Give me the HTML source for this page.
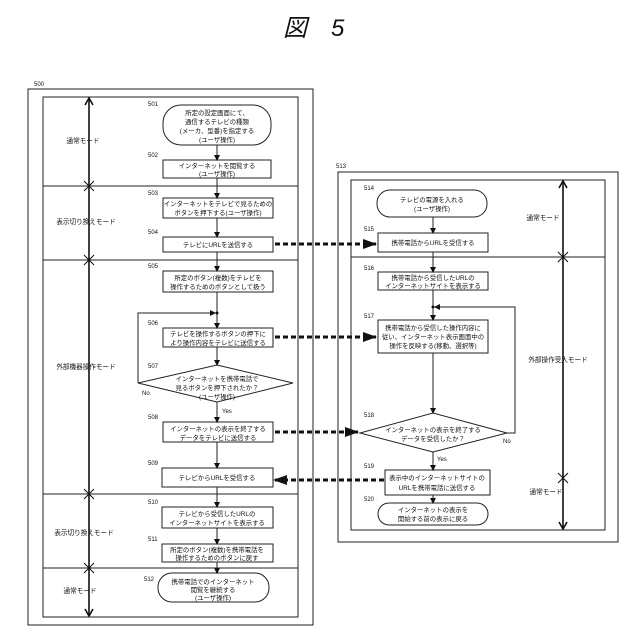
<!DOCTYPE html>
<html><head><meta charset="utf-8"><style>
html,body{margin:0;padding:0;background:#fff;}
svg{display:block;}
text{font-family:"Liberation Sans","Noto Sans CJK JP",sans-serif;fill:#111;}
.t{font-size:6.4px;text-anchor:middle;}
.n{font-size:6px;}
.m{font-size:6.6px;text-anchor:middle;}
</style></head><body>
<svg width="640" height="640" viewBox="0 0 640 640" xmlns="http://www.w3.org/2000/svg">
<defs>
<marker id="a" markerWidth="6" markerHeight="6" refX="5" refY="3" orient="auto" markerUnits="userSpaceOnUse"><path d="M0,0 L6,3 L0,6 z" fill="#111"/></marker>
<marker id="big" markerWidth="14" markerHeight="10" refX="13" refY="5" orient="auto" markerUnits="userSpaceOnUse"><path d="M0,0 L14,5 L0,10 z" fill="#111"/></marker>
</defs>
<text x="283" y="36" style="font-size:24px;font-style:italic;">図　5</text>

<g fill="none" stroke="#222" stroke-width="1">
<rect x="28" y="89" width="285" height="536"/>
<rect x="43" y="97" width="255" height="520"/>
<line x1="43" y1="186" x2="298" y2="186"/>
<line x1="43" y1="260" x2="298" y2="260"/>
<line x1="43" y1="494" x2="298" y2="494"/>
<line x1="43" y1="568" x2="298" y2="568"/>
<rect x="338" y="172" width="280" height="370"/>
<rect x="351" y="180" width="254" height="350"/>
<line x1="351" y1="257" x2="605" y2="257"/>
</g>
<!-- mode arrows -->
<g stroke="#111" stroke-width="1.6" fill="none">
<line x1="89" y1="99" x2="89" y2="615"/>
<line x1="563" y1="182" x2="563" y2="528"/>
<path d="M85,105 L89,98 L93,105 M85,609 L89,616 L93,609 M559,188 L563,181 L567,188 M559,522 L563,529 L567,522"/>
<path d="M84,181 l10,10 M94,181 l-10,10 M84,255 l10,10 M94,255 l-10,10 M84,489 l10,10 M94,489 l-10,10 M84,563 l10,10 M94,563 l-10,10 M558,252 l10,10 M568,252 l-10,10 M558,473 l10,10 M568,473 l-10,10" stroke-width="1"/>
</g>
<text class="m" x="83" y="143">通常モード</text>
<text class="m" x="86" y="224">表示切り換えモード</text>
<text class="m" x="86" y="369">外部機器操作モード</text>
<text class="m" x="84" y="535">表示切り換えモード</text>
<text class="m" x="80" y="593">通常モード</text>
<text class="m" x="543" y="220">通常モード</text>
<text class="m" x="558" y="362">外部操作受入モード</text>
<text class="m" x="546" y="494">通常モード</text>

<g fill="#fff" stroke="#222" stroke-width="1">
<rect x="163" y="105" width="108" height="40" rx="18"/>
<rect x="163" y="160" width="108" height="18"/>
<rect x="163" y="198" width="110" height="20"/>
<rect x="163" y="237" width="110" height="15"/>
<rect x="163" y="271" width="110" height="21"/>
<rect x="163" y="328" width="110" height="19"/>
<polygon points="138,383 217,365 293,383 217,402"/>
<rect x="163" y="422" width="110" height="20"/>
<rect x="162" y="468" width="111" height="19"/>
<rect x="162" y="507" width="111" height="21"/>
<rect x="162" y="544" width="111" height="18"/>
<rect x="158" y="573" width="111" height="29" rx="14"/>
</g>
<g stroke="#222" stroke-width="1" fill="none">
<line x1="217" y1="145" x2="217" y2="160" marker-end="url(#a)"/>
<line x1="217" y1="178" x2="217" y2="198" marker-end="url(#a)"/>
<line x1="217" y1="218" x2="217" y2="237" marker-end="url(#a)"/>
<line x1="217" y1="252" x2="217" y2="271" marker-end="url(#a)"/>
<line x1="217" y1="292" x2="217" y2="328" marker-end="url(#a)"/>
<line x1="217" y1="347" x2="217" y2="365" marker-end="url(#a)"/>
<line x1="217" y1="402" x2="217" y2="422" marker-end="url(#a)"/>
<line x1="217" y1="442" x2="217" y2="468" marker-end="url(#a)"/>
<line x1="217" y1="487" x2="217" y2="507" marker-end="url(#a)"/>
<line x1="217" y1="528" x2="217" y2="544" marker-end="url(#a)"/>
<line x1="217" y1="562" x2="217" y2="573" marker-end="url(#a)"/>
<polyline points="138,383 138,313 215,313" marker-end="url(#a)"/>
</g>
<circle cx="217" cy="313" r="1.5" fill="#111"/>
<text class="t" x="217" y="115">所定の設定画面にて、</text>
<text class="t" x="217" y="124">通信するテレビの種類</text>
<text class="t" x="217" y="133">(メーカ、型番)を指定する</text>
<text class="t" x="217" y="142">(ユーザ操作)</text>
<text class="t" x="217" y="168">インターネットを閲覧する</text>
<text class="t" x="217" y="176">(ユーザ操作)</text>
<text class="t" x="218" y="206">インターネットをテレビで見るための</text>
<text class="t" x="218" y="215">ボタンを押下する(ユーザ操作)</text>
<text class="t" x="218" y="247">テレビにURLを送信する</text>
<text class="t" x="218" y="280">所定のボタン(複数)をテレビを</text>
<text class="t" x="218" y="289">操作するためのボタンとして扱う</text>
<text class="t" x="218" y="336">テレビを操作するボタンの押下に</text>
<text class="t" x="218" y="345">より操作内容をテレビに送信する</text>
<text class="t" x="217" y="381">インターネットを携帯電話で</text>
<text class="t" x="217" y="390">見るボタンを押下されたか？</text>
<text class="t" x="217" y="399">(ユーザ操作)</text>
<text class="n" x="142" y="395">No</text>
<text class="n" x="222" y="413">Yes</text>
<text class="t" x="218" y="431">インターネットの表示を終了する</text>
<text class="t" x="218" y="440">データをテレビに送信する</text>
<text class="t" x="217" y="480">テレビからURLを受信する</text>
<text class="t" x="217" y="516">テレビから受信したURLの</text>
<text class="t" x="217" y="525">インターネットサイトを表示する</text>
<text class="t" x="217" y="552">所定のボタン(複数)を携帯電話を</text>
<text class="t" x="217" y="560">操作するためのボタンに戻す</text>
<text class="t" x="213" y="584">携帯電話でのインターネット</text>
<text class="t" x="213" y="592">閲覧を継続する</text>
<text class="t" x="213" y="600">(ユーザ操作)</text>

<g>
<text class="n" x="148" y="106">501</text>
<text class="n" x="148" y="157">502</text>
<text class="n" x="148" y="195">503</text>
<text class="n" x="148" y="234">504</text>
<text class="n" x="148" y="268">505</text>
<text class="n" x="148" y="325">506</text>
<text class="n" x="148" y="368">507</text>
<text class="n" x="148" y="419">508</text>
<text class="n" x="148" y="465">509</text>
<text class="n" x="148" y="504">510</text>
<text class="n" x="148" y="541">511</text>
<text class="n" x="144" y="581">512</text>
<text class="n" x="34" y="86">500</text>
<text class="n" x="336" y="168">513</text>
<text class="n" x="364" y="190">514</text>
<text class="n" x="364" y="231">515</text>
<text class="n" x="364" y="270">516</text>
<text class="n" x="364" y="318">517</text>
<text class="n" x="364" y="417">518</text>
<text class="n" x="364" y="468">519</text>
<text class="n" x="364" y="501">520</text>
</g>

<g fill="#fff" stroke="#222" stroke-width="1">
<rect x="377" y="190" width="110" height="27" rx="13"/>
<rect x="378" y="233" width="110" height="19"/>
<rect x="378" y="272" width="110" height="18"/>
<rect x="378" y="320" width="110" height="33"/>
<polygon points="360,433 433,413 507,433 433,452"/>
<rect x="385" y="470" width="105" height="25"/>
<rect x="378" y="503" width="110" height="22" rx="11"/>
</g>
<g stroke="#222" stroke-width="1" fill="none">
<line x1="433" y1="217" x2="433" y2="233" marker-end="url(#a)"/>
<line x1="433" y1="252" x2="433" y2="272" marker-end="url(#a)"/>
<line x1="433" y1="290" x2="433" y2="320" marker-end="url(#a)"/>
<line x1="433" y1="353" x2="433" y2="413" marker-end="url(#a)"/>
<line x1="433" y1="452" x2="433" y2="470" marker-end="url(#a)"/>
<line x1="433" y1="495" x2="433" y2="503" marker-end="url(#a)"/>
<polyline points="507,433 515,433 515,307 435,307" marker-end="url(#a)"/>
</g>
<circle cx="433" cy="307" r="1.5" fill="#111"/>
<text class="t" x="432" y="202">テレビの電源を入れる</text>
<text class="t" x="432" y="211">(ユーザ操作)</text>
<text class="t" x="433" y="245">携帯電話からURLを受信する</text>
<text class="t" x="433" y="280">携帯電話から受信したURLの</text>
<text class="t" x="433" y="288">インターネットサイトを表示する</text>
<text class="t" x="433" y="330">携帯電話から受信した操作内容に</text>
<text class="t" x="433" y="339">従い、インターネット表示画面中の</text>
<text class="t" x="433" y="348">操作を反映する(移動、選択等)</text>
<text class="t" x="433" y="432">インターネットの表示を終了する</text>
<text class="t" x="433" y="441">データを受信したか？</text>
<text class="n" x="503" y="443">No</text>
<text class="n" x="437" y="461">Yes</text>
<text class="t" x="437" y="480">表示中のインターネットサイトの</text>
<text class="t" x="437" y="490">URLを携帯電話に送信する</text>
<text class="t" x="433" y="512">インターネットの表示を</text>
<text class="t" x="433" y="521">開始する前の表示に戻る</text>

<g stroke="#111" stroke-width="3" stroke-dasharray="5,3" fill="none">
<line x1="275" y1="244" x2="376" y2="244" marker-end="url(#big)"/>
<line x1="275" y1="337" x2="376" y2="337" marker-end="url(#big)"/>
<line x1="275" y1="432" x2="358" y2="432" marker-end="url(#big)"/>
<line x1="384" y1="480" x2="274" y2="480" marker-end="url(#big)"/>
</g>
</svg>
</body></html>
